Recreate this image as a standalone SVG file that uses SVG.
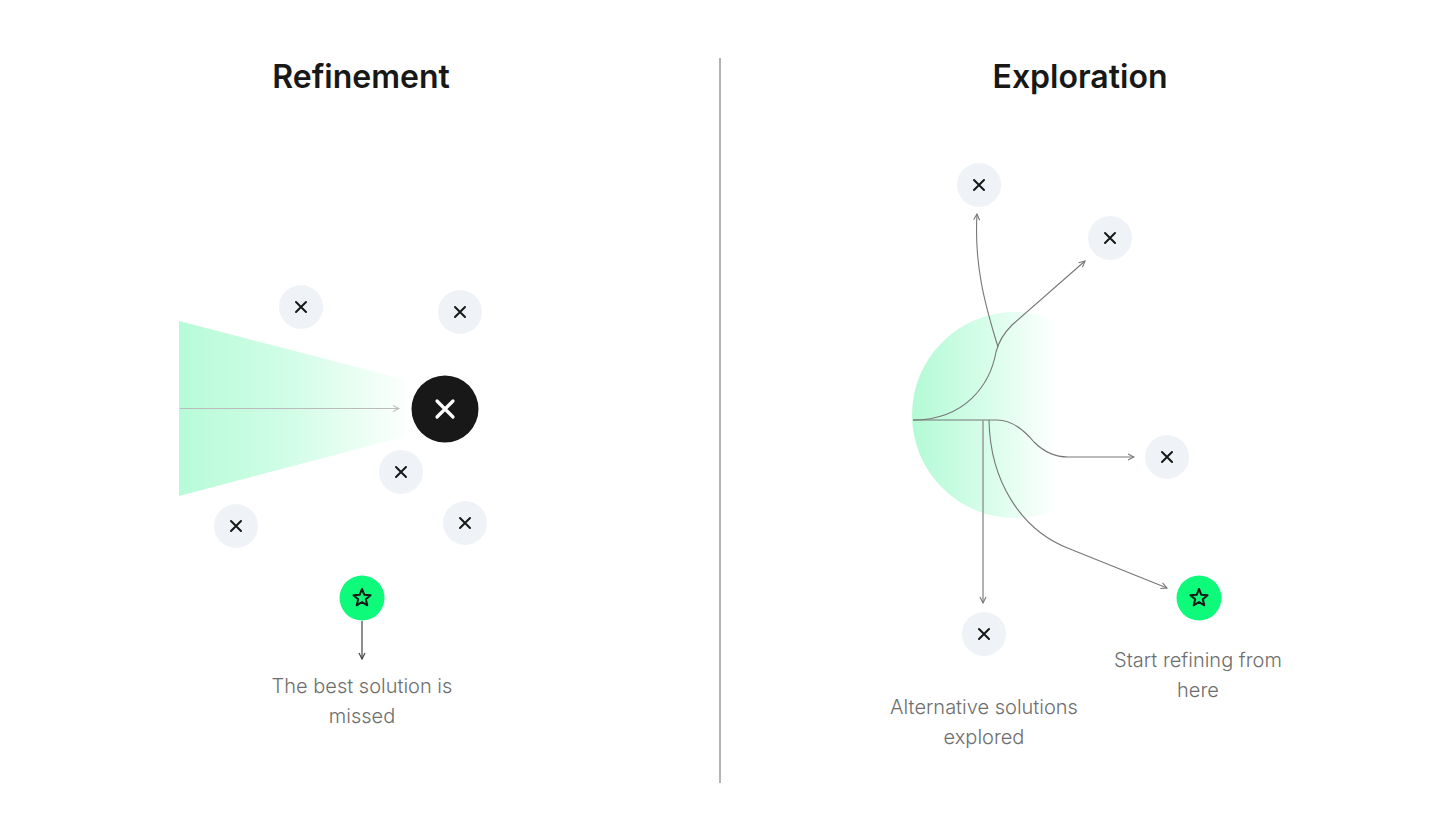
<svg xmlns="http://www.w3.org/2000/svg" xmlns:xlink="http://www.w3.org/1999/xlink" width="1440" height="840" viewBox="0 0 1440 840">
<style>
.title{font-family:Inter,"Liberation Sans",sans-serif;font-size:32px;font-weight:600;fill:#171817;text-anchor:middle}
.label{font-family:Inter,"Liberation Sans",sans-serif;font-size:20px;font-weight:300;fill:#6e6e6e;text-anchor:middle}
.node{fill:#eff2f7}
.x{stroke:#171817;stroke-width:2;stroke-linecap:round;fill:none}
.star{fill:#0dfa7b}
.conn{fill:none;stroke:#777;stroke-width:1.1}
</style>
<defs>
<linearGradient id="coneGrad" x1="0" y1="0" x2="1" y2="0">
<stop offset="0" stop-color="#b6fbd8"/>
<stop offset="0.5" stop-color="#d3fde7"/>
<stop offset="1" stop-color="#fcfffd"/>
</linearGradient>
<linearGradient id="circGrad" gradientUnits="userSpaceOnUse" x1="912" y1="0" x2="1057" y2="0">
<stop offset="0" stop-color="#b3fad5"/>
<stop offset="0.5" stop-color="#d6fde9"/>
<stop offset="1" stop-color="#ffffff"/>
</linearGradient>
<marker id="arr" viewBox="0 0 8 8" refX="7" refY="4" markerWidth="8" markerHeight="8" markerUnits="userSpaceOnUse" orient="auto">
<path d="M1,1 L7,4 L1,7" fill="none" stroke="#777" stroke-width="1.1"/>
</marker>
<marker id="arrL" viewBox="0 0 8 8" refX="7" refY="4" markerWidth="8" markerHeight="8" markerUnits="userSpaceOnUse" orient="auto">
<path d="M1,1 L7,4 L1,7" fill="none" stroke="#bbb" stroke-width="1.1"/>
</marker>
<marker id="arrD" viewBox="0 0 8 8" refX="7" refY="4" markerWidth="8" markerHeight="8" markerUnits="userSpaceOnUse" orient="auto">
<path d="M1,1 L7,4 L1,7" fill="none" stroke="#444" stroke-width="1.2"/>
</marker>
<g id="xmark"><path class="x" d="M-5,-5 L5,5 M5,-5 L-5,5"/></g>
<path id="starShape" d="M0,-9 L2.35,-3.24 L8.56,-2.78 L3.8,1.24 L5.29,7.28 L0,4 L-5.29,7.28 L-3.8,1.24 L-8.56,-2.78 L-2.35,-3.24 Z" fill="none" stroke="#171817" stroke-width="2" stroke-linejoin="round"/>
</defs>
<rect width="1440" height="840" fill="#ffffff"/>

<line x1="720" y1="58" x2="720" y2="783" stroke="#9a9a9a" stroke-width="1.5"/>

<g id="refinement">
<text class="title" x="361" y="88">Refinement</text>
<polygon points="179,321 407,380 407,436 179,496" fill="url(#coneGrad)"/>
</g>

<g id="exploration">
<text class="title" x="1080" y="88">Exploration</text>
<circle cx="1015" cy="415" r="103" fill="url(#circGrad)"/>
</g>

<g id="connectors">
<line x1="180" y1="408.5" x2="399" y2="408.5" stroke="#bbb" stroke-width="1.1" marker-end="url(#arrL)"/>
<line x1="362" y1="621" x2="362" y2="659" stroke="#444" stroke-width="1.2" marker-end="url(#arrD)"/>
<path class="conn" d="M913,420 C965,420 990,385 996,352 C999,340 1004,333 1012,325 L1085,261" marker-end="url(#arr)"/>
<path class="conn" d="M998,347 C985,305 974,265 977,214" marker-end="url(#arr)"/>
<path class="conn" d="M913,420 L997,420 C1012,420 1024,430 1034,442 C1044,452 1055,457 1068,457 L1134,457" marker-end="url(#arr)"/>
<line x1="983" y1="420" x2="983" y2="603" stroke="#999" stroke-width="1.5" marker-end="url(#arr)"/>
<path class="conn" d="M989,420 C990,480 1020,530 1070,549 L1167,588" marker-end="url(#arr)"/>
</g>

<g id="best-solution">
<circle cx="445" cy="409" r="33.5" fill="#171817"/>
<path d="M437,401 L453,417 M453,401 L437,417" stroke="#ffffff" stroke-width="3.2" stroke-linecap="round"/>
</g>
<g id="l-n1"><circle class="node" cx="301" cy="307" r="22"/><use href="#xmark" x="301" y="307"/></g>
<g id="l-n2"><circle class="node" cx="460" cy="312" r="22"/><use href="#xmark" x="460" y="312"/></g>
<g id="l-n3"><circle class="node" cx="401" cy="472" r="22"/><use href="#xmark" x="401" y="472"/></g>
<g id="l-n4"><circle class="node" cx="236" cy="526" r="22"/><use href="#xmark" x="236" y="526"/></g>
<g id="l-n5"><circle class="node" cx="465" cy="523" r="22"/><use href="#xmark" x="465" y="523"/></g>
<g id="l-star"><circle class="star" cx="362" cy="598" r="22.5"/><use href="#starShape" x="362" y="598"/></g>
<g id="l-label">
<text class="label" x="362" y="693">The best solution is</text>
<text class="label" x="362" y="723">missed</text>
</g>

<g id="r-n1"><circle class="node" cx="979" cy="185" r="22"/><use href="#xmark" x="979" y="185"/></g>
<g id="r-n2"><circle class="node" cx="1110" cy="238" r="22"/><use href="#xmark" x="1110" y="238"/></g>
<g id="r-n3"><circle class="node" cx="1167" cy="457" r="22"/><use href="#xmark" x="1167" y="457"/></g>
<g id="r-n4"><circle class="node" cx="984" cy="634" r="22"/><use href="#xmark" x="984" y="634"/></g>
<g id="r-star"><circle class="star" cx="1199" cy="598" r="22.5"/><use href="#starShape" x="1199" y="598"/></g>
<g id="r-label1">
<text class="label" x="984" y="714">Alternative solutions</text>
<text class="label" x="984" y="744">explored</text>
</g>
<g id="r-label2">
<text class="label" x="1198" y="667">Start refining from</text>
<text class="label" x="1198" y="697">here</text>
</g>
</svg>
